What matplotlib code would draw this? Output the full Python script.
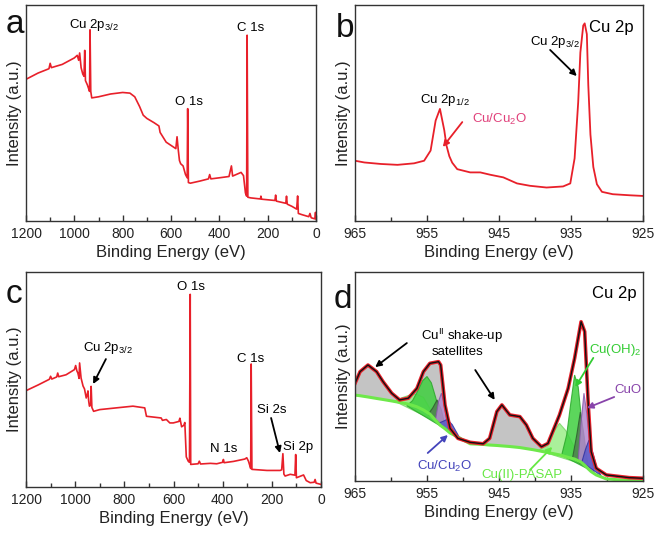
import numpy as np
import matplotlib
matplotlib.use('Agg')
import matplotlib.pyplot as plt

plt.rcParams['font.family'] = ['Liberation Sans', 'DejaVu Sans']
plt.rcParams['mathtext.fontset'] = 'custom'
plt.rcParams['mathtext.rm'] = 'Liberation Sans'
plt.rcParams['mathtext.it'] = 'Liberation Sans:italic'

W, H = 661, 536
RED = '#e8202a'

# ---- panel a: survey spectrum, sample 1 ----
a_ev = [1200, 1150, 1105, 1100, 1095, 1050, 1000, 988, 982, 978, 972, 965, 960, 957, 954,
        946, 940, 937, 935, 932, 928, 900, 850, 800, 770, 750, 730, 715, 700, 670, 650,
        645, 620, 600, 580, 575, 570, 565, 560, 550, 540, 533, 531, 528, 520, 480, 445,
        440, 435, 400, 360, 350, 345, 310, 300, 292, 287, 285, 282, 270, 230, 228, 225,
        170, 167, 164, 125, 122, 119, 100, 80, 76, 73, 60, 30, 25, 20, 5, 2, 0]
a_int = [65.6, 68.5, 70.5, 73.0, 71.0, 72.5, 75.5, 76.7, 74.4, 77.8, 71.0, 68.0, 67.0, 79.0, 65.0,
         63.0, 61.0, 60.0, 88.5, 60.0, 57.0, 57.5, 58.8, 59.5, 59.2, 57.5, 53.0, 49.0, 47.5, 45.5, 44.0,
         41.0, 36.5, 35.0, 33.5, 39.0, 33.0, 28.0, 26.5, 25.5, 21.5, 20.0, 52.0, 17.8, 17.5, 18.5, 19.5,
         21.5, 19.5, 20.0, 20.6, 25.5, 20.8, 22.5, 21.0, 13.0, 11.5, 86.0, 11.0, 10.7, 10.2, 11.5, 10.1,
         9.5, 12.0, 9.2, 8.2, 11.5, 7.8, 6.8, 5.5, 11.6, 3.5, 3.0, 2.0, 3.5, 1.5, 1.0, 4.0, 1.0]

# ---- panel b: Cu 2p, sample 1 ----
b_ev = [965, 963.7, 961.4, 959.1, 956.8, 955.4, 954.5, 953.8, 953.2, 952.6, 952.3, 951.9,
        951.5, 950.8, 949.0, 947.6, 946.2, 944.4, 942.5, 940.7, 938.4, 936.1, 935.1, 934.5,
        934.0, 933.7, 933.3, 933.1, 932.8, 932.6, 932.3, 931.9, 931.4, 930.7, 929.2, 926.8, 925]
b_int = [27.9, 27.1, 26.4, 26.0, 26.7, 27.9, 32.6, 46.5, 51.9, 42.0, 35.0, 30.0,
         27.0, 24.0, 22.5, 22.5, 21.4, 20.2, 17.4, 16.3, 15.5, 16.0, 17.4, 29.0,
         55.0, 78.0, 90.5, 91.5, 86.5, 63.0, 40.0, 25.0, 17.0, 13.5, 12.4, 11.9, 11.6]

# ---- panel c: survey spectrum, sample 2 ----
c_ev = [1200, 1150, 1105, 1100, 1095, 1075, 1071, 1067, 1037, 1003, 998, 993, 989, 984, 982,
        976, 968, 962, 955, 950, 948, 945, 942, 937, 935, 932, 925, 900, 833, 765, 717, 710,
        650, 645, 629, 615, 601, 578, 574, 567, 558, 554, 548, 540, 535, 532, 530, 500, 495,
        490, 450, 424, 400, 397, 394, 356, 310, 302, 295, 291, 286, 284, 281, 220, 166, 160,
        155, 151, 146, 125, 106, 103, 100, 71, 60, 44, 28, 24, 20, 0]
c_int = [44.8, 47.5, 50.1, 51.5, 50.2, 51.2, 53.0, 51.3, 52.2, 54.6, 56.5, 54.0, 53.0, 50.5, 57.7,
         50.7, 47.0, 45.6, 41.4, 43.5, 44.7, 40.0, 37.6, 38.0, 46.8, 37.0, 35.2, 36.0, 36.8, 37.6, 36.8, 32.9,
         32.1, 31.0, 31.4, 29.8, 29.8, 30.5, 32.0, 28.0, 28.7, 30.0, 14.0, 12.0, 11.5, 89.6, 10.5, 10.8, 12.0,
         10.7, 11.0, 10.8, 11.5, 12.8, 11.3, 11.9, 13.0, 13.6, 12.0, 10.5, 8.6, 57.2, 8.2, 7.7, 7.7, 8.0,
         15.5, 6.0, 5.1, 5.9, 5.5, 15.1, 4.3, 5.6, 3.0, 2.0, 2.2, 3.5, 1.8, 1.2]

# ---- panel d: fitted Cu 2p, sample 2 ----
d_ev = [965, 964.3, 963.2, 962.0, 961.1, 959.9, 958.8, 957.6, 956.4, 955.5, 954.6, 953.4, 953.1,
        952.5, 951.8, 950.7, 949.0, 947.2, 946.3, 945.3, 944.6, 943.5, 942.1, 941.2, 940.3,
        939.1, 938.2, 936.6, 935.4, 934.5, 933.6, 933.1, 932.6, 932.2, 931.5, 930.1, 926.9, 925]
d_fit = [46.7, 52.3, 55.5, 52.3, 47.5, 42.0, 38.8, 39.6, 44.3, 52.3, 56.3, 57.1, 55.5,
         36.4, 25.2, 20.4, 18.5, 17.8, 20.4, 33.2, 36.4, 31.6, 30.8, 26.8, 20.4,
         16.4, 18.0, 31.6, 44.3, 58.7, 76.2, 71.5, 36.4, 14.0, 6.1, 2.9, 1.6, 1.3]
d_bg = [41.1, 40.8, 40.2, 39.5, 39.0, 38.3, 37.6, 36.8, 35.5, 34.0, 32.0, 27.5, 26.5,
        25.0, 23.0, 21.0, 17.8, 17.5, 17.2, 17.0, 16.8, 16.5, 16.0, 15.5, 15.0,
        14.2, 13.6, 12.5, 11.3, 10.5, 9.0, 7.5, 5.8, 4.5, 2.9, 1.0, 0.2, 0.0]

# fitted components (eV, intensity)
pasap1_ev = [959.5, 958.5, 957.5, 956.5, 955.5, 954.5, 953.5]
pasap1 = [38.2, 39.8, 41.0, 41.5, 40.0, 34.0, 28.0]
oh1_ev = [957.8, 957.0, 956.3, 955.6, 955.0, 954.4, 953.8, 953.2, 952.5]
oh1 = [36.0, 38.5, 43.0, 48.0, 50.0, 47.0, 40.0, 32.0, 25.0]
dg1_ev = [954.8, 954.2, 953.6, 953.0, 952.4]
dg1 = [32.0, 35.0, 38.8, 34.0, 25.0]
cuo1_ev = [953.8, 953.4, 953.0, 952.6, 952.1]
cuo1 = [29.5, 38.0, 42.0, 37.0, 24.5]
cu1_ev = [953.5, 952.8, 952.2, 951.5, 950.6, 949.8]
cu1 = [27.5, 28.5, 29.5, 27.0, 21.5, 19.0]
pasap3_ev = [939.5, 938.5, 937.5, 936.6, 935.7, 934.8, 933.8, 933.0]
pasap3 = [14.6, 17.0, 23.0, 27.6, 24.0, 18.0, 11.0, 7.6]
oh3_ev = [936.3, 935.6, 935.0, 934.5, 934.0, 933.5, 933.0, 932.5]
oh3 = [12.3, 22.0, 38.0, 50.7, 45.0, 28.0, 14.0, 5.5]
dg3_ev = [934.8, 934.2, 933.7, 933.2, 932.6]
dg3 = [10.8, 22.0, 33.0, 22.0, 6.0]
cuo3_ev = [934.0, 933.6, 933.2, 932.8, 932.3, 931.8]
cuo3 = [10.0, 28.0, 42.0, 32.0, 14.0, 4.0]
cu3_ev = [933.5, 933.0, 932.5, 932.0, 931.4, 930.8]
cu3 = [9.0, 15.0, 19.6, 14.0, 6.0, 2.5]


def box(l, t, r, b):
    return [l / W, 1 - b / H, (r - l) / W, (b - t) / H]


def style(ax, xlim, major, minor):
    ax.set_xlim(*xlim)
    ax.set_ylim(0, 100)
    ax.set_yticks([])
    ax.set_xticks(major)
    ax.set_xticks(minor, minor=True)
    ax.tick_params(axis='x', which='both', direction='in', width=1, colors='#333333',
                   labelcolor='#222222')
    ax.tick_params(axis='x', which='major', length=4, labelsize=10, pad=4)
    ax.tick_params(axis='x', which='minor', length=3)
    for s in ax.spines.values():
        s.set_linewidth(1)
        s.set_color('#333333')
    ax.set_xlabel('Binding Energy (eV)', fontsize=12, labelpad=3, color='#222222')
    ax.set_ylabel('Intensity (a.u.)', fontsize=12, labelpad=3, color='#222222')


def arrow(ax, tail, head, color='k'):
    ax.annotate('', xy=head, xytext=tail,
                arrowprops=dict(arrowstyle='-|>', color=color, lw=1.3,
                                mutation_scale=9, shrinkA=0, shrinkB=0))


fig = plt.figure(figsize=(6.61, 5.36), dpi=100)

survey_major = [1200, 1000, 800, 600, 400, 200, 0]
survey_minor = [1100, 900, 700, 500, 300, 100]
cu_major = [965, 955, 945, 935, 925]
cu_minor = [960, 950, 940, 930]

# panel a
ax_a = fig.add_axes(box(26, 5, 316, 221))
ax_a.plot(a_ev, a_int, color=RED, lw=1.2)
style(ax_a, (1200, 0), survey_major, survey_minor)
ax_a.text(1022, 89.4, 'Cu 2p$_{\\mathrm{3/2}}$', fontsize=9.5)
ax_a.text(583, 53.7, 'O 1s', fontsize=9.5)
ax_a.text(327, 88, 'C 1s', fontsize=9.5)

# panel b
ax_b = fig.add_axes(box(355, 5, 643, 221))
ax_b.plot(b_ev, b_int, color=RED, lw=1.3)
style(ax_b, (965, 925), cu_major, cu_minor)
ax_b.text(932.5, 87.5, 'Cu 2p', fontsize=12)
ax_b.text(940.7, 81.5, 'Cu 2p$_{\\mathrm{3/2}}$', fontsize=9.5)
arrow(ax_b, (937.9, 79.2), (934.2, 67.1))
ax_b.text(956.0, 54.6, 'Cu 2p$_{\\mathrm{1/2}}$', fontsize=9.5)
ax_b.text(948.75, 45.4, 'Cu/Cu$_{\\mathrm{2}}$O', fontsize=9.5, color='#e0407a')
arrow(ax_b, (950.1, 45.8), (952.8, 34.3), color='#e8202a')

# panel c
ax_c = fig.add_axes(box(26, 272, 321, 487))
ax_c.plot(c_ev, c_int, color=RED, lw=1.2)
style(ax_c, (1200, 0), survey_major, survey_minor)
ax_c.text(586, 91.6, 'O 1s', fontsize=9.5)
ax_c.text(968, 63.3, 'Cu 2p$_{\\mathrm{3/2}}$', fontsize=9.5)
arrow(ax_c, (875, 59.5), (927, 47.9))
ax_c.text(342, 58.1, 'C 1s', fontsize=9.5)
ax_c.text(260, 34.4, 'Si 2s', fontsize=9.5)
arrow(ax_c, (203, 32.1), (167, 15.8))
ax_c.text(154, 17.2, 'Si 2p', fontsize=9.5)
ax_c.text(451, 16.3, 'N 1s', fontsize=9.5)

# panel d
ax_d = fig.add_axes(box(355, 272, 643, 481))
ev = np.array(d_ev)
ax_d.fill_between(d_ev, d_bg, d_fit, where=ev >= 952.5, color='#c4c4c4', lw=0)
ax_d.fill_between(d_ev, d_bg, d_fit, where=(ev <= 947.2) & (ev >= 938.2),
                  color='#c4c4c4', lw=0)
comps = [
    (pasap1_ev, pasap1, '#9bee88', '#7bd86a'),
    (oh1_ev, oh1, '#3fcf3f', '#2aa82a'),
    (dg1_ev, dg1, '#4f7f4f', '#2f5f2f'),
    (cuo1_ev, cuo1, '#b48ad0', '#8858a8'),
    (cu1_ev, cu1, '#5a5ac8', '#3232a0'),
    (pasap3_ev, pasap3, '#9bee88', '#7bd86a'),
    (oh3_ev, oh3, '#3fcf3f', '#2aa82a'),
    (dg3_ev, dg3, '#4f7f4f', '#2f5f2f'),
    (cuo3_ev, cuo3, '#b48ad0', '#8858a8'),
    (cu3_ev, cu3, '#5a5ac8', '#3232a0'),
]
for xs, ys, fc, ec in comps:
    ax_d.fill(xs, ys, facecolor=fc, edgecolor=ec, lw=0.8, alpha=0.85)
ax_d.plot(d_ev, d_bg, color='#6ee84a', lw=2.2)
ax_d.plot(d_ev, d_fit, color=RED, lw=2.6)
ax_d.plot(d_ev, d_fit, color='#111111', lw=1.0)
style(ax_d, (965, 925), cu_major, cu_minor)
ax_d.text(932.1, 87.6, 'Cu 2p', fontsize=12)
ax_d.text(950.1, 67.5, 'Cu$^{\\mathrm{II}}$ shake-up', fontsize=9.5, ha='center')
ax_d.text(950.7, 60.3, 'satellites', fontsize=9.5, ha='center')
arrow(ax_d, (957.8, 66.0), (962.2, 54.5))
arrow(ax_d, (948.3, 53.1), (945.6, 38.8))
ax_d.text(932.5, 61.2, 'Cu(OH)$_{\\mathrm{2}}$', fontsize=9.5, color='#33cc33')
arrow(ax_d, (931.9, 58.9), (934.4, 45.0), color='#33cc33')
ax_d.text(929.0, 42.1, 'CuO', fontsize=9.5, color='#8844aa')
arrow(ax_d, (929.0, 40.2), (932.8, 34.9), color='#8844aa')
ax_d.text(956.4, 5.3, 'Cu/Cu$_{\\mathrm{2}}$O', fontsize=9.5, color='#4444bb')
arrow(ax_d, (954.9, 13.4), (952.1, 22.0), color='#4444bb')
ax_d.text(947.4, 1.4, 'Cu(II)-PASAP', fontsize=9.5, color='#66e844')
arrow(ax_d, (940.7, 5.3), (937.6, 16.3), color='#66e844')

# panel letters
for lab, px, py in [('a', 6, 33), ('b', 336, 37), ('c', 6, 303), ('d', 334, 308)]:
    fig.text(px / W, 1 - py / H, lab, fontsize=24, va='baseline', color='#111111')

fig.savefig('out.png', dpi=100)
